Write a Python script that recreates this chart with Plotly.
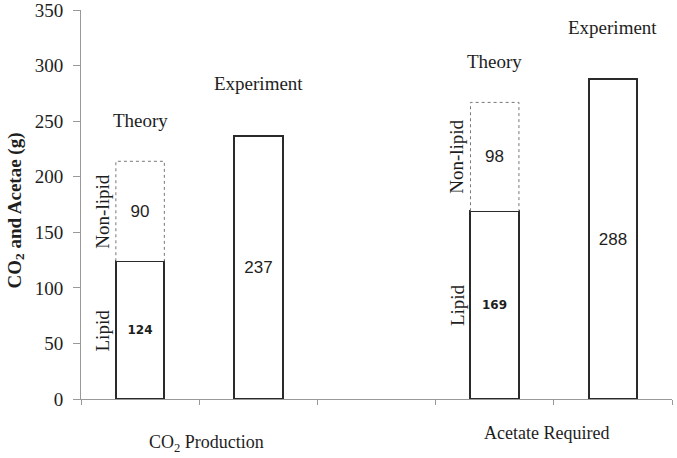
import plotly.graph_objects as go

# ---- data ----
groups = ["CO<sub>2</sub> Production", "Acetate Required"]
lipid = [124, 169]
nonlipid = [90, 98]
experiment = [237, 288]
y_ticks = [0, 50, 100, 150, 200, 250, 300, 350]

theory_pos = [0, 3]
exp_pos = [1, 4]
W = 0.41

SERIF = "Liberation Serif, Times New Roman, serif"
TXT = "#1e1e1e"

fig = go.Figure()

fig.add_trace(go.Bar(
    x=theory_pos, y=lipid, width=W,
    marker=dict(color="white", line=dict(color="#2a2a2a", width=2)),
    text=[str(v) for v in lipid], textposition="inside", insidetextanchor="middle",
    textangle=0, textfont=dict(family="DejaVu Sans", size=12, color=TXT, weight="bold"),
    showlegend=False, hoverinfo="skip"))

fig.add_trace(go.Bar(
    x=theory_pos, y=nonlipid, width=W,
    marker=dict(color="white", line=dict(color="white", width=0)),
    text=[str(v) for v in nonlipid], textposition="inside", insidetextanchor="middle",
    textangle=0, textfont=dict(family="Liberation Sans", size=17, color=TXT),
    showlegend=False, hoverinfo="skip"))

fig.add_trace(go.Bar(
    x=exp_pos, y=experiment, width=W,
    marker=dict(color="white", line=dict(color="#2a2a2a", width=2)),
    text=[str(v) for v in experiment], textposition="inside", insidetextanchor="middle",
    textangle=0, textfont=dict(family="Liberation Sans", size=17, color=TXT),
    showlegend=False, hoverinfo="skip"))

# dotted outline for non-lipid segments
ox, oy = [], []
for p, l, n in zip(theory_pos, lipid, nonlipid):
    ox += [p - W / 2, p - W / 2, p + W / 2, p + W / 2, None]
    oy += [l, l + n, l + n, l, None]
fig.add_trace(go.Scatter(x=ox, y=oy, mode="lines",
                         line=dict(color="#777777", width=1, dash="dot"),
                         showlegend=False, hoverinfo="skip"))

ann = []
for p, l, n in zip(theory_pos, lipid, nonlipid):
    ann.append(dict(x=p, y=l + n, text="Theory", showarrow=False, yshift=41,
                    font=dict(family=SERIF, size=19, color=TXT)))
    ann.append(dict(x=p - W / 2, y=l / 2, text="Lipid", showarrow=False, textangle=-90,
                    xanchor="right", xshift=-1, font=dict(family=SERIF, size=19, color=TXT)))
    ann.append(dict(x=p - W / 2, y=l + n / 2, text="Non-lipid", showarrow=False, textangle=-90,
                    xanchor="right", xshift=-1, font=dict(family=SERIF, size=19, color=TXT)))
for p, e in zip(exp_pos, experiment):
    ann.append(dict(x=p, y=e, text="Experiment", showarrow=False, yshift=52,
                    font=dict(family=SERIF, size=19, color=TXT)))

grp_shift = [(7, -44), (-7, -34)]
for g, tp, ep, (xs, ys) in zip(groups, theory_pos, exp_pos, grp_shift):
    ann.append(dict(x=(tp + ep) / 2, y=0, text=g, showarrow=False, xshift=xs, yshift=ys,
                    yanchor="middle", font=dict(family=SERIF, size=18, color=TXT)))

ann.append(dict(x=0, y=0.5, xref="paper", yref="paper", text="CO<sub>2</sub> and Acetae (g)",
                showarrow=False, textangle=-90, xanchor="center", yanchor="middle",
                xshift=-66, yshift=-6,
                font=dict(family=SERIF, size=19, color=TXT, weight="bold")))

fig.update_layout(
    width=677, height=458,
    margin=dict(l=81, r=5, t=10, b=59, autoexpand=False),
    paper_bgcolor="white", plot_bgcolor="white",
    barmode="stack", bargap=0,
    annotations=ann,
    xaxis=dict(range=[-0.5, 4.5], tickvals=[-0.5, 0.5, 1.5, 2.5, 3.5, 4.5],
               showticklabels=False, ticks="outside", ticklen=5, tickcolor="#999999",
               showline=True, linecolor="#999999", linewidth=1, showgrid=False,
               zeroline=False, fixedrange=True, automargin=False),
    yaxis=dict(range=[0, 350.2], tickvals=y_ticks, ticks="outside", ticklen=7,
               tickcolor="#999999", showline=True, linecolor="#999999", linewidth=1,
               showgrid=False, zeroline=False, ticklabelstandoff=6,
               ticklabeloverflow="allow", automargin=False,
               tickfont=dict(family=SERIF, size=19, color=TXT)),
)

fig.write_html("out.html", config={"displayModeBar": False},
               post_script="document.body.style.margin='0';")
